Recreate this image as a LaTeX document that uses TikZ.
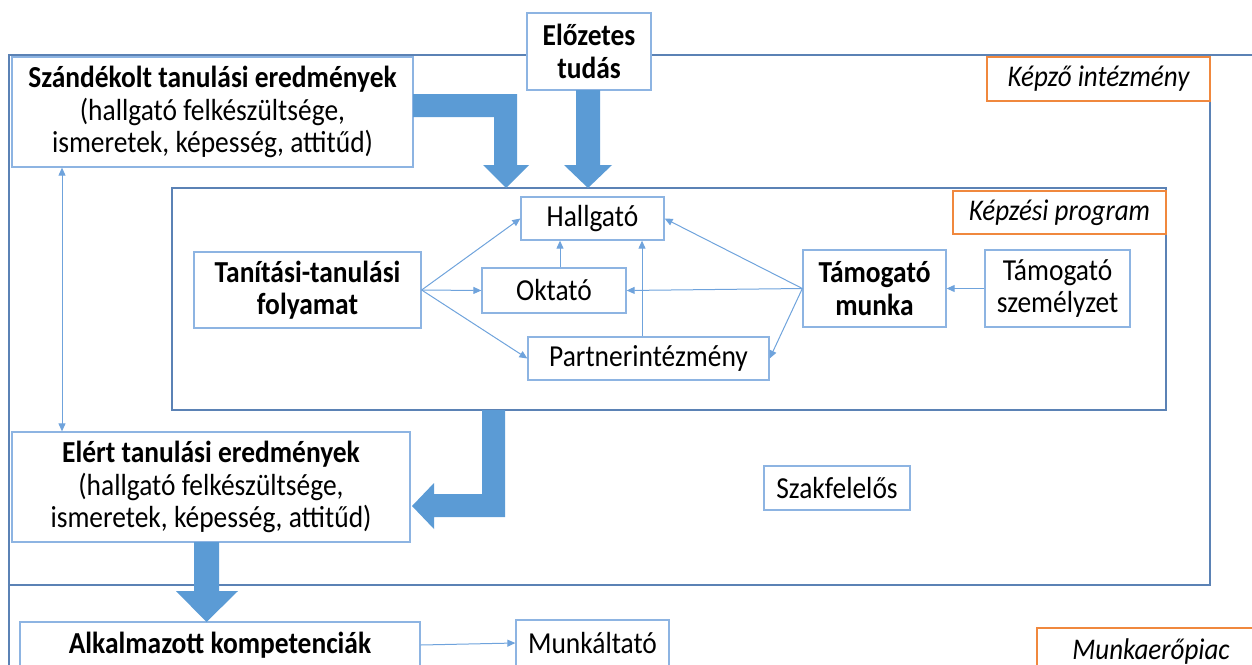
\documentclass[tikz,border=0pt]{standalone}
\usepackage{fontspec}
\setmainfont{Carlito}[FakeStretch=0.9]
\usetikzlibrary{arrows.meta}
\definecolor{boxblue}{HTML}{8DB4E2}
\definecolor{frameblue}{HTML}{5B82B5}
\definecolor{arrowblue}{HTML}{5B9BD5}
\definecolor{thinblue}{HTML}{6FA3DC}
\definecolor{lblorange}{HTML}{F0883E}
\begin{document}
\begin{tikzpicture}[x=1pt,y=-1pt,
  box/.style={draw=boxblue, line width=1.3pt, fill=white, inner sep=0pt, align=center, font=\fontsize{30.5}{32.5}\selectfont},
  lbl/.style={draw=lblorange, line width=1.3pt, fill=white, inner sep=0pt, font=\fontsize{30}{32.5}\selectfont\itshape},
  frameline/.style={draw=frameblue, line width=1.3pt},
  big/.style={fill=arrowblue, draw=none},
  thin/.style={draw=thinblue, line width=1pt, -{Triangle[length=8pt,width=7pt]}},
]
\useasboundingbox (0,0) rectangle (1252,664);
\clip (0,0) rectangle (1252,664);
% outer frames
\draw[frameline] (9,700) -- (9,55) -- (1260,55);
\draw[frameline] (9,55) rectangle (1210,585);
\draw[frameline] (172,188) rectangle (1166,410);
% labels
\node[lbl, minimum width=223pt, minimum height=44pt] (kint) at (1098.5,79) {Képző intézmény};
\node[lbl, minimum width=213pt, minimum height=43pt] (kprog) at (1059.5,212.5) {Képzési program};
\node[lbl, minimum width=228pt, minimum height=46pt] (mpiac) at (1151,651) {Munkaerőpiac};
% boxes
\node[box, minimum width=401pt, minimum height=110pt] (szand) at (212.5,112) {\textbf{Szándékolt tanulási eredmények}\\(hallgató felkészültsége,\\ismeretek, képesség, attitűd)};
\node[box, minimum width=124pt, minimum height=77pt] (eloz) at (589,51.5) {\textbf{Előzetes}\\\textbf{tudás}};
\node[box, minimum width=143pt, minimum height=43pt] (hallg) at (592.5,218.5) {Hallgató};
\node[box, minimum width=227pt, minimum height=76pt] (tanit) at (307.5,290) {\textbf{Tanítási-tanulási}\\\textbf{folyamat}};
\node[box, minimum width=144pt, minimum height=45pt] (okt) at (554,290.5) {Oktató};
\node[box, minimum width=241pt, minimum height=43pt] (partn) at (648.5,358.5) {Partnerintézmény};
\node[box, minimum width=143pt, minimum height=77pt] (tmunka) at (874.5,288.5) {\textbf{Támogató}\\\textbf{munka}};
\node[box, minimum width=145pt, minimum height=77pt] (tszem) at (1057.5,288.5) {Támogató\\személyzet};
\node[box, minimum width=398pt, minimum height=110pt] (elert) at (211,487) {\textbf{Elért tanulási eredmények}\\(hallgató felkészültsége,\\ismeretek, képesség, attitűd)};
\node[box, minimum width=146pt, minimum height=44pt] (szakf) at (837,488) {Szakfelelős};
\node[box, minimum width=400pt, minimum height=46pt] (alk) at (220,645) {\textbf{Alkalmazott kompetenciák}};
\node[box, minimum width=153pt, minimum height=46pt] (munk) at (592.5,643) {Munkáltató};
% big block arrows
\fill[big] (413,94) -- (517,94) -- (517,165) -- (529,165) -- (506,188) -- (483,165) -- (494,165) -- (494,117) -- (413,117) -- cycle;
\fill[big] (576,90) -- (600,90) -- (600,165) -- (612,165) -- (588,188) -- (564,165) -- (576,165) -- cycle;
\fill[big] (482,410) -- (505,410) -- (505,517) -- (434,517) -- (434,529) -- (412,506) -- (434,483) -- (434,494) -- (482,494) -- cycle;
\fill[big] (194,542) -- (219,542) -- (219,591) -- (238,591) -- (206.5,622) -- (176,591) -- (194,591) -- cycle;
% thin connectors
\coordinate (dx) at (62,0);
\draw[thin, {Triangle[length=8pt,width=7pt]}-{Triangle[length=8pt,width=7pt]}] (szand.south -| dx) -- (elert.north -| dx);
\draw[thin] (tanit.east) -- (hallg.west);
\draw[thin] (tanit.east) -- (okt.west);
\draw[thin] (tanit.east) -- (partn.west);
\coordinate (ok1) at ([xshift=6pt]okt.north);
\draw[thin] (ok1) -- (ok1 |- hallg.south);
\coordinate (pa1) at ([xshift=-6.5pt]partn.north);
\draw[thin] (pa1) -- (pa1 |- hallg.south);
\draw[thin] (tmunka.west) -- (hallg.east);
\draw[thin] (tmunka.west) -- (okt.east);
\draw[thin] (tmunka.west) -- (partn.east);
\draw[thin] (tszem.west) -- (tmunka.east);
\draw[thin] (alk.east) -- (munk.west);
\end{tikzpicture}
\end{document}
